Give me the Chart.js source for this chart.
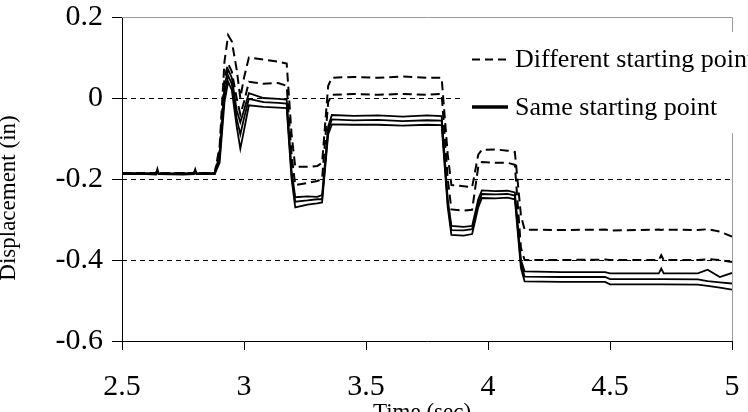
<!DOCTYPE html>
<html>
<head>
<meta charset="utf-8">
<script src="https://cdn.jsdelivr.net/npm/chart.js@4.4.0/dist/chart.umd.min.js"></script>
<style>
  html, body { margin: 0; padding: 0; background: #fff; }
  canvas { display: block; }
</style>
</head>
<body>
<canvas id="c" width="748" height="412"></canvas>
<script>
// ---- data ----
const timeSec = [2.50,2.60,2.64,2.645,2.65,2.75,2.795,2.80,2.805,2.88,
  2.90,2.92,2.935,2.95,2.97,2.985,3.00,3.02,3.08,3.14,3.175,
  3.195,3.21,3.26,3.30,3.32,3.345,3.36,3.45,3.55,3.65,3.75,3.81,
  3.835,3.85,3.90,3.935,3.96,3.975,4.03,4.08,4.11,
  4.135,4.15,4.30,4.48,4.50,4.70,4.71,4.72,4.86,4.90,4.95,5.00];

const diffStart1 = [-0.185,-0.186,-0.185,-0.178,-0.186,-0.186,-0.185,-0.179,-0.186,-0.185,
  -0.12,0.09,0.155,0.14,0.07,0.0,0.05,0.10,0.095,0.09,0.085,
  -0.09,-0.17,-0.17,-0.168,-0.16,0.03,0.05,0.052,0.05,0.053,0.05,0.05,
  -0.14,-0.215,-0.218,-0.22,-0.14,-0.128,-0.127,-0.13,-0.133,
  -0.29,-0.325,-0.326,-0.325,-0.327,-0.325,-0.326,-0.325,-0.326,-0.324,-0.33,-0.342];

const diffStart2 = [-0.186,-0.185,-0.186,-0.181,-0.186,-0.185,-0.186,-0.181,-0.186,-0.186,
  -0.13,0.05,0.085,0.065,0.0,-0.04,-0.01,0.04,0.035,0.037,0.03,
  -0.14,-0.215,-0.21,-0.205,-0.20,-0.01,0.008,0.01,0.008,0.01,0.008,0.01,
  -0.20,-0.275,-0.278,-0.276,-0.17,-0.158,-0.16,-0.16,-0.165,
  -0.37,-0.40,-0.40,-0.399,-0.40,-0.40,-0.388,-0.40,-0.40,-0.398,-0.40,-0.405];

const sameStart1 = [-0.185,-0.186,-0.185,-0.175,-0.186,-0.187,-0.185,-0.176,-0.186,-0.185,
  -0.14,0.03,0.07,0.05,-0.03,-0.06,-0.03,0.012,0.0,-0.002,-0.004,
  -0.18,-0.245,-0.243,-0.244,-0.24,-0.07,-0.042,-0.044,-0.043,-0.046,-0.043,-0.045,
  -0.25,-0.316,-0.318,-0.316,-0.25,-0.228,-0.23,-0.229,-0.233,
  -0.40,-0.428,-0.43,-0.43,-0.433,-0.433,-0.421,-0.433,-0.433,-0.424,-0.442,-0.432];

const sameStart2 = [-0.187,-0.186,-0.187,-0.182,-0.187,-0.186,-0.187,-0.183,-0.187,-0.187,
  -0.15,0.01,0.055,0.035,-0.05,-0.09,-0.05,-0.002,-0.01,-0.012,-0.014,
  -0.19,-0.256,-0.253,-0.25,-0.25,-0.08,-0.053,-0.055,-0.054,-0.057,-0.055,-0.056,
  -0.26,-0.326,-0.327,-0.324,-0.26,-0.237,-0.238,-0.237,-0.241,
  -0.41,-0.441,-0.442,-0.442,-0.447,-0.447,-0.447,-0.447,-0.448,-0.452,-0.455,-0.458];

const sameStart3 = [-0.188,-0.188,-0.189,-0.184,-0.188,-0.189,-0.188,-0.185,-0.188,-0.188,
  -0.16,-0.01,0.04,0.02,-0.07,-0.125,-0.08,-0.018,-0.022,-0.024,-0.025,
  -0.20,-0.27,-0.263,-0.26,-0.258,-0.09,-0.065,-0.066,-0.066,-0.068,-0.066,-0.067,
  -0.27,-0.338,-0.34,-0.336,-0.27,-0.247,-0.248,-0.246,-0.25,
  -0.42,-0.453,-0.454,-0.454,-0.46,-0.46,-0.46,-0.46,-0.461,-0.464,-0.468,-0.473];

const xTickLabels = ['2.5','3','3.5','4','4.5','5'];
const xTickValues = [2.5,3,3.5,4,4.5,5];
const yTickLabels = ['0.2','0','-0.2','-0.4','-0.6'];
const yTickValues = [0.2,0,-0.2,-0.4,-0.6];
const yGridDashed = [0,-0.2,-0.4];
const legendLabels = ['Different starting point','Same starting point'];
const xTitle = 'Time (sec)';
const yTitle = 'Displacement (in)';

const SERIF = '"Liberation Serif", "Times New Roman", serif';

function pts(vals) { return timeSec.map((t, i) => ({ x: t, y: vals[i] })); }
function dashedSet(vals) {
  return { data: pts(vals), borderColor: '#000', borderWidth: 2, borderDash: [9, 5],
           pointRadius: 0, tension: 0, fill: false };
}
function solidSet(vals) {
  return { data: pts(vals), borderColor: '#000', borderWidth: 1.8,
           pointRadius: 0, tension: 0, fill: false };
}

const decor = {
  id: 'decor',
  beforeDatasetsDraw(chart) {
    const { ctx, chartArea: a, scales: { y } } = chart;
    ctx.save();
    ctx.strokeStyle = '#000';
    ctx.lineWidth = 1;
    ctx.setLineDash([5, 4]);
    yGridDashed.forEach(v => {
      const py = Math.round(y.getPixelForValue(v)) + 0.5;
      ctx.beginPath(); ctx.moveTo(a.left, py); ctx.lineTo(a.right, py); ctx.stroke();
    });
    ctx.setLineDash([]);
    ctx.strokeStyle = '#9a9a9a';
    ctx.beginPath();
    ctx.moveTo(a.left, Math.round(a.top) + 0.5);
    ctx.lineTo(Math.round(a.right) + 0.5, Math.round(a.top) + 0.5);
    ctx.lineTo(Math.round(a.right) + 0.5, a.bottom);
    ctx.stroke();
    ctx.restore();
  },
  afterDraw(chart) {
    const { ctx } = chart;
    ctx.save();
    ctx.fillStyle = '#fff';
    ctx.fillRect(462, 32, 290, 101);
    ctx.strokeStyle = '#000';
    ctx.lineWidth = 2;
    ctx.setLineDash([8, 5]);
    ctx.beginPath(); ctx.moveTo(472, 59.5); ctx.lineTo(508, 59.5); ctx.stroke();
    ctx.setLineDash([]);
    ctx.lineWidth = 3.5;
    ctx.beginPath(); ctx.moveTo(472, 107); ctx.lineTo(508, 107); ctx.stroke();
    ctx.fillStyle = '#000';
    ctx.font = '26px ' + SERIF;
    ctx.textAlign = 'left';
    ctx.textBaseline = 'middle';
    ctx.fillText(legendLabels[0], 515, 60);
    ctx.fillText(legendLabels[1], 515, 108);
    ctx.font = '23px ' + SERIF;
    ctx.textAlign = 'center';
    ctx.textBaseline = 'alphabetic';
    ctx.fillText(xTitle, 422, 419);
    ctx.translate(15, 198);
    ctx.rotate(-Math.PI / 2);
    ctx.fillText(yTitle, 0, 0);
    ctx.restore();
  }
};

new Chart(document.getElementById('c'), {
  type: 'line',
  data: {
    datasets: [
      dashedSet(diffStart1), dashedSet(diffStart2),
      solidSet(sameStart1), solidSet(sameStart2), solidSet(sameStart3)
    ]
  },
  options: {
    responsive: false,
    animation: false,
    parsing: false,
    layout: { padding: { left: 0, top: 17, right: 16, bottom: 0 } },
    plugins: { legend: { display: false }, tooltip: { enabled: false } },
    scales: {
      x: {
        type: 'linear', min: 2.5, max: 5,
        afterFit(s) { s.height = 71; s.paddingLeft = 0; s.paddingRight = 0; },
        afterBuildTicks(s) { s.ticks = xTickValues.map(v => ({ value: v })); },
        ticks: {
          color: '#000', padding: 19, maxRotation: 0, autoSkip: false,
          font: { family: SERIF, size: 30 },
          callback(v) { const i = xTickValues.indexOf(v); return i >= 0 ? xTickLabels[i] : ''; }
        },
        grid: { drawOnChartArea: false, drawTicks: true, tickLength: 9, color: '#000', tickColor: '#000' },
        border: { display: true, color: '#000', width: 1 }
      },
      y: {
        type: 'linear', min: -0.6, max: 0.2,
        afterFit(s) { s.width = 122; s.paddingTop = 0; s.paddingBottom = 0; },
        afterBuildTicks(s) { s.ticks = yTickValues.map(v => ({ value: v })); },
        ticks: {
          color: '#000', padding: 9, autoSkip: false,
          font: { family: SERIF, size: 30 },
          callback(v) { const i = yTickValues.findIndex(t => Math.abs(t - v) < 1e-9); return i >= 0 ? yTickLabels[i] : ''; }
        },
        grid: { drawOnChartArea: false, drawTicks: true, tickLength: 10, color: '#000', tickColor: '#000' },
        border: { display: true, color: '#000', width: 1 }
      }
    }
  },
  plugins: [decor]
});
</script>
</body>
</html>
